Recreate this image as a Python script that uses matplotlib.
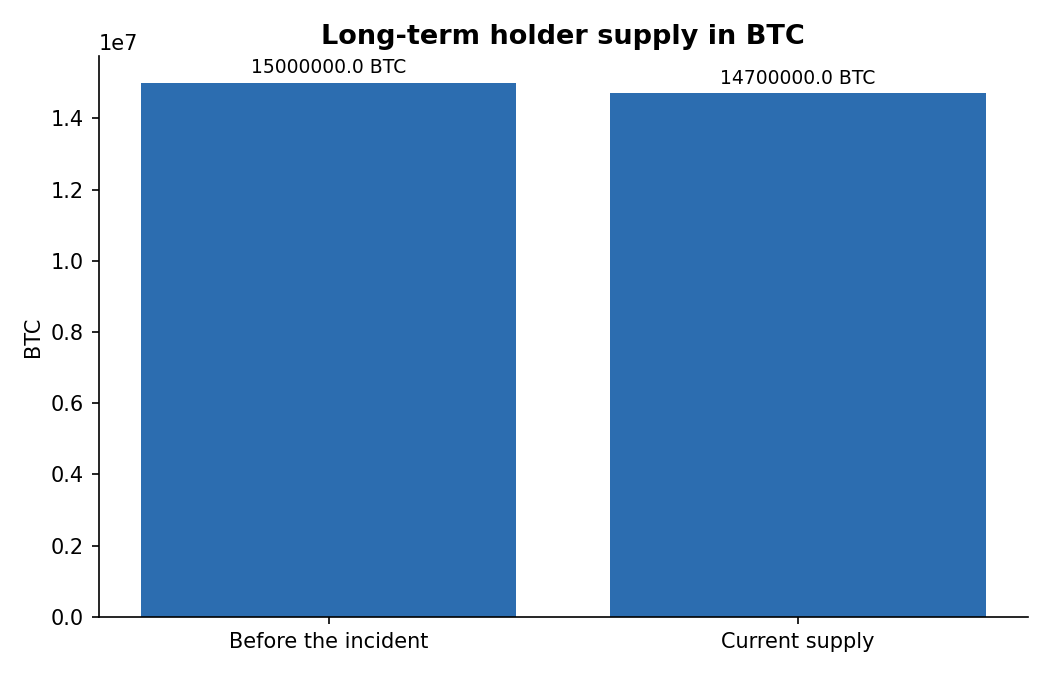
import matplotlib
matplotlib.use("Agg")
import matplotlib.pyplot as plt

categories = ["Before the incident", "Current supply"]
supply = [15000000.0, 14700000.0]

fig, ax = plt.subplots(figsize=(7, 4.5), dpi=150)
bars = ax.bar(categories, supply, color="#2c6db0")
for b, v in zip(bars, supply):
    ax.text(b.get_x() + b.get_width() / 2, v + 1.5e5, f"{v} BTC",
            ha="center", va="bottom", fontsize=9)
ax.set_ylabel("BTC")
ax.set_title("Long-term holder supply in BTC", fontsize=13, fontweight="bold")
ax.spines["top"].set_visible(False)
ax.spines["right"].set_visible(False)
fig.subplots_adjust(left=0.094, right=0.979, bottom=0.086, top=0.917)
fig.savefig("out.png")
